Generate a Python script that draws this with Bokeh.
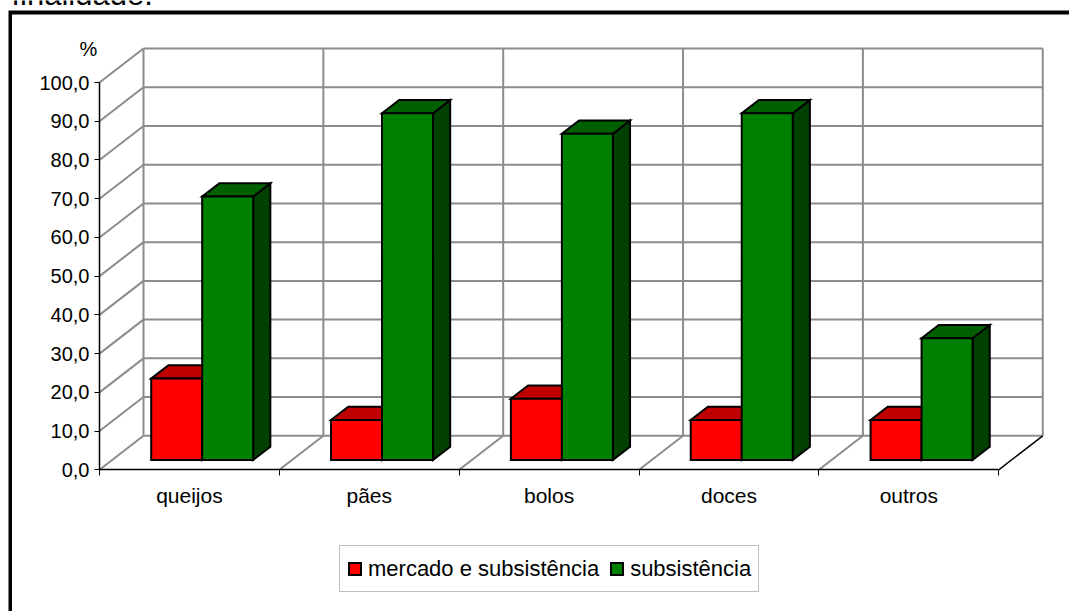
from bokeh.plotting import figure
from bokeh.models import FixedTicker, Legend, LegendItem, Label, PolyAnnotation
from bokeh.embed import file_html
from bokeh.resources import INLINE

# ---- data -------------------------------------------------------------
categories = ["queijos", "pães", "bolos", "doces", "outros"]
series_names = ["mercado e subsistência", "subsistência"]
mercado_subsistencia = [21.0, 10.3, 15.8, 10.3, 10.3]
subsistencia = [68.0, 89.5, 84.2, 89.5, 31.4]
y_ticks = [0, 10, 20, 30, 40, 50, 60, 70, 80, 90, 100]
y_tick_labels = ["0,0", "10,0", "20,0", "30,0", "40,0", "50,0",
                 "60,0", "70,0", "80,0", "90,0", "100,0"]

# ---- canvas and scale set-up ------------------------------------------------
W, H = 1069, 611
ORIGIN_X, ORIGIN_Y = 99.0, 469.3      # pixel position of the front corner (x=0.5, y=0)
PX_X, PX_Y = 179.85, 3.873            # pixels per category / per percent

n = len(categories)
centers = [i + 1 for i in range(n)]
bounds = [i + 0.5 for i in range(n + 1)]
ymax = y_ticks[-1]

x_start = bounds[0] - ORIGIN_X / PX_X
x_end = bounds[0] + (W - ORIGIN_X) / PX_X
y_start = -(H - ORIGIN_Y) / PX_Y
y_end = ORIGIN_Y / PX_Y

DX = 44 / PX_X          # depth offset of the back wall (x)
DY = 34 / PX_Y          # depth offset of the back wall (y)
BAR_W = 51 / PX_X       # width of one bar
F0, F1 = 0.29, 0.68     # depth fractions of bar front / back faces

GRID = "#8c8c8c"
FONT = "Liberation Sans"

p = figure(frame_width=W, frame_height=H,
           x_range=(x_start, x_end), y_range=(y_start, y_end),
           min_border=0,
           output_backend="svg", toolbar_location=None,
           background_fill_color="white", border_fill_color="white")
p.outline_line_color = None
p.xgrid.visible = False
p.ygrid.visible = False

# back wall horizontal grid lines
p.multi_line(xs=[[bounds[0] + DX, bounds[-1] + DX] for v in y_ticks],
             ys=[[v + DY, v + DY] for v in y_ticks],
             line_color=GRID, line_width=2)
# back wall verticals
p.multi_line(xs=[[b + DX, b + DX] for b in bounds],
             ys=[[DY, ymax + DY] for b in bounds],
             line_color=GRID, line_width=2)
# side wall diagonals
p.multi_line(xs=[[bounds[0], bounds[0] + DX] for v in y_ticks],
             ys=[[v, v + DY] for v in y_ticks],
             line_color=GRID, line_width=2)
# floor diagonals
p.multi_line(xs=[[b, b + DX] for b in bounds[1:-1]],
             ys=[[0, DY] for b in bounds[1:-1]],
             line_color=GRID, line_width=2)
p.line(x=[bounds[-1], bounds[-1] + DX], y=[0, DY], line_color="black", line_width=1.5)


def box_faces(x_left, h):
    fx0 = x_left + F0 * DX
    fx1 = fx0 + BAR_W
    fy0 = F0 * DY
    fy1 = fy0 + h
    bx = (F1 - F0) * DX
    by = (F1 - F0) * DY
    front = ([fx0, fx1, fx1, fx0], [fy0, fy0, fy1, fy1])
    top = ([fx0, fx1, fx1 + bx, fx0 + bx], [fy1, fy1, fy1 + by, fy1 + by])
    side = ([fx1, fx1 + bx, fx1 + bx, fx1], [fy0, fy0 + by, fy1 + by, fy1])
    return front, top, side


def draw_series(values, offset, c_front, c_top, c_side):
    faces = [box_faces(c + offset, v) for c, v in zip(centers, values)]
    kw = dict(line_color="black", line_width=2, line_join="miter")
    p.patches(xs=[f[2][0] for f in faces], ys=[f[2][1] for f in faces], fill_color=c_side, **kw)
    p.patches(xs=[f[1][0] for f in faces], ys=[f[1][1] for f in faces], fill_color=c_top, **kw)
    return p.patches(xs=[f[0][0] for f in faces], ys=[f[0][1] for f in faces], fill_color=c_front, **kw)


r_red = draw_series(mercado_subsistencia, -BAR_W, "#ff0000", "#c00000", "#800000")
r_green = draw_series(subsistencia, 0.0, "#008000", "#006000", "#004000")

# ---- axes (pinned to the front corner of the box) ---------------------------
ya = p.yaxis[0]
ya.fixed_location = bounds[0]
ya.ticker = FixedTicker(ticks=y_ticks)
ya.major_label_overrides = dict(zip(y_ticks, y_tick_labels))
ya.bounds = (0, ymax)
ya.axis_line_color = "black"
ya.axis_line_width = 1.5
ya.major_tick_in = 0
ya.major_tick_out = 5
ya.major_tick_line_color = "black"
ya.minor_tick_line_color = None
ya.major_label_standoff = 5
ya.major_label_text_font = FONT
ya.major_label_text_font_size = "20px"
ya.major_label_text_color = "black"

xa = p.xaxis[0]
xa.fixed_location = 0
xa.ticker = FixedTicker(ticks=centers, minor_ticks=bounds)
xa.major_label_overrides = dict(zip(centers, categories))
xa.bounds = (bounds[0], bounds[-1])
xa.axis_line_color = "black"
xa.axis_line_width = 1.5
xa.major_tick_line_color = None
xa.major_tick_in = 0
xa.major_tick_out = 0
xa.minor_tick_line_color = "black"
xa.minor_tick_in = 0
xa.minor_tick_out = 6
xa.major_label_standoff = 8
xa.major_label_text_font = FONT
xa.major_label_text_font_size = "21px"
xa.major_label_text_color = "black"

# ---- legend ----------------------------------------------------------------
legend = Legend(items=[LegendItem(label=series_names[0], renderers=[r_red]),
                       LegendItem(label=series_names[1], renderers=[r_green])],
                location=(339, H - 592), orientation="horizontal",
                border_line_color="#808080", border_line_width=1.5,
                background_fill_color="white", background_fill_alpha=1.0,
                padding=7, margin=0, spacing=10,
                glyph_width=15, glyph_height=15, label_standoff=6,
                label_height=31,
                label_text_font=FONT, label_text_font_size="22px",
                label_text_color="black")
p.add_layout(legend)

# ---- captions and border -----------------------------------------------------
p.add_layout(Label(x=88, y=H - 48, x_units="screen", y_units="screen", text="%",
                   text_align="center", text_baseline="alphabetic",
                   text_font=FONT, text_font_size="20px", text_color="black"))
p.add_layout(Label(x=11, y=H + 6, x_units="screen", y_units="screen", text="finalidade.",
                   text_align="left", text_baseline="alphabetic",
                   text_font=FONT, text_font_size="31px", text_color="black"))
p.add_layout(PolyAnnotation(xs=[8, 8, W, W, 11.5, 11.5],
                            ys=[0, H - 10, H - 10, H - 14, H - 14, 0],
                            xs_units="screen", ys_units="screen",
                            fill_color="black", fill_alpha=1.0, line_color=None))

open("out.html", "w").write(file_html(p, INLINE))
